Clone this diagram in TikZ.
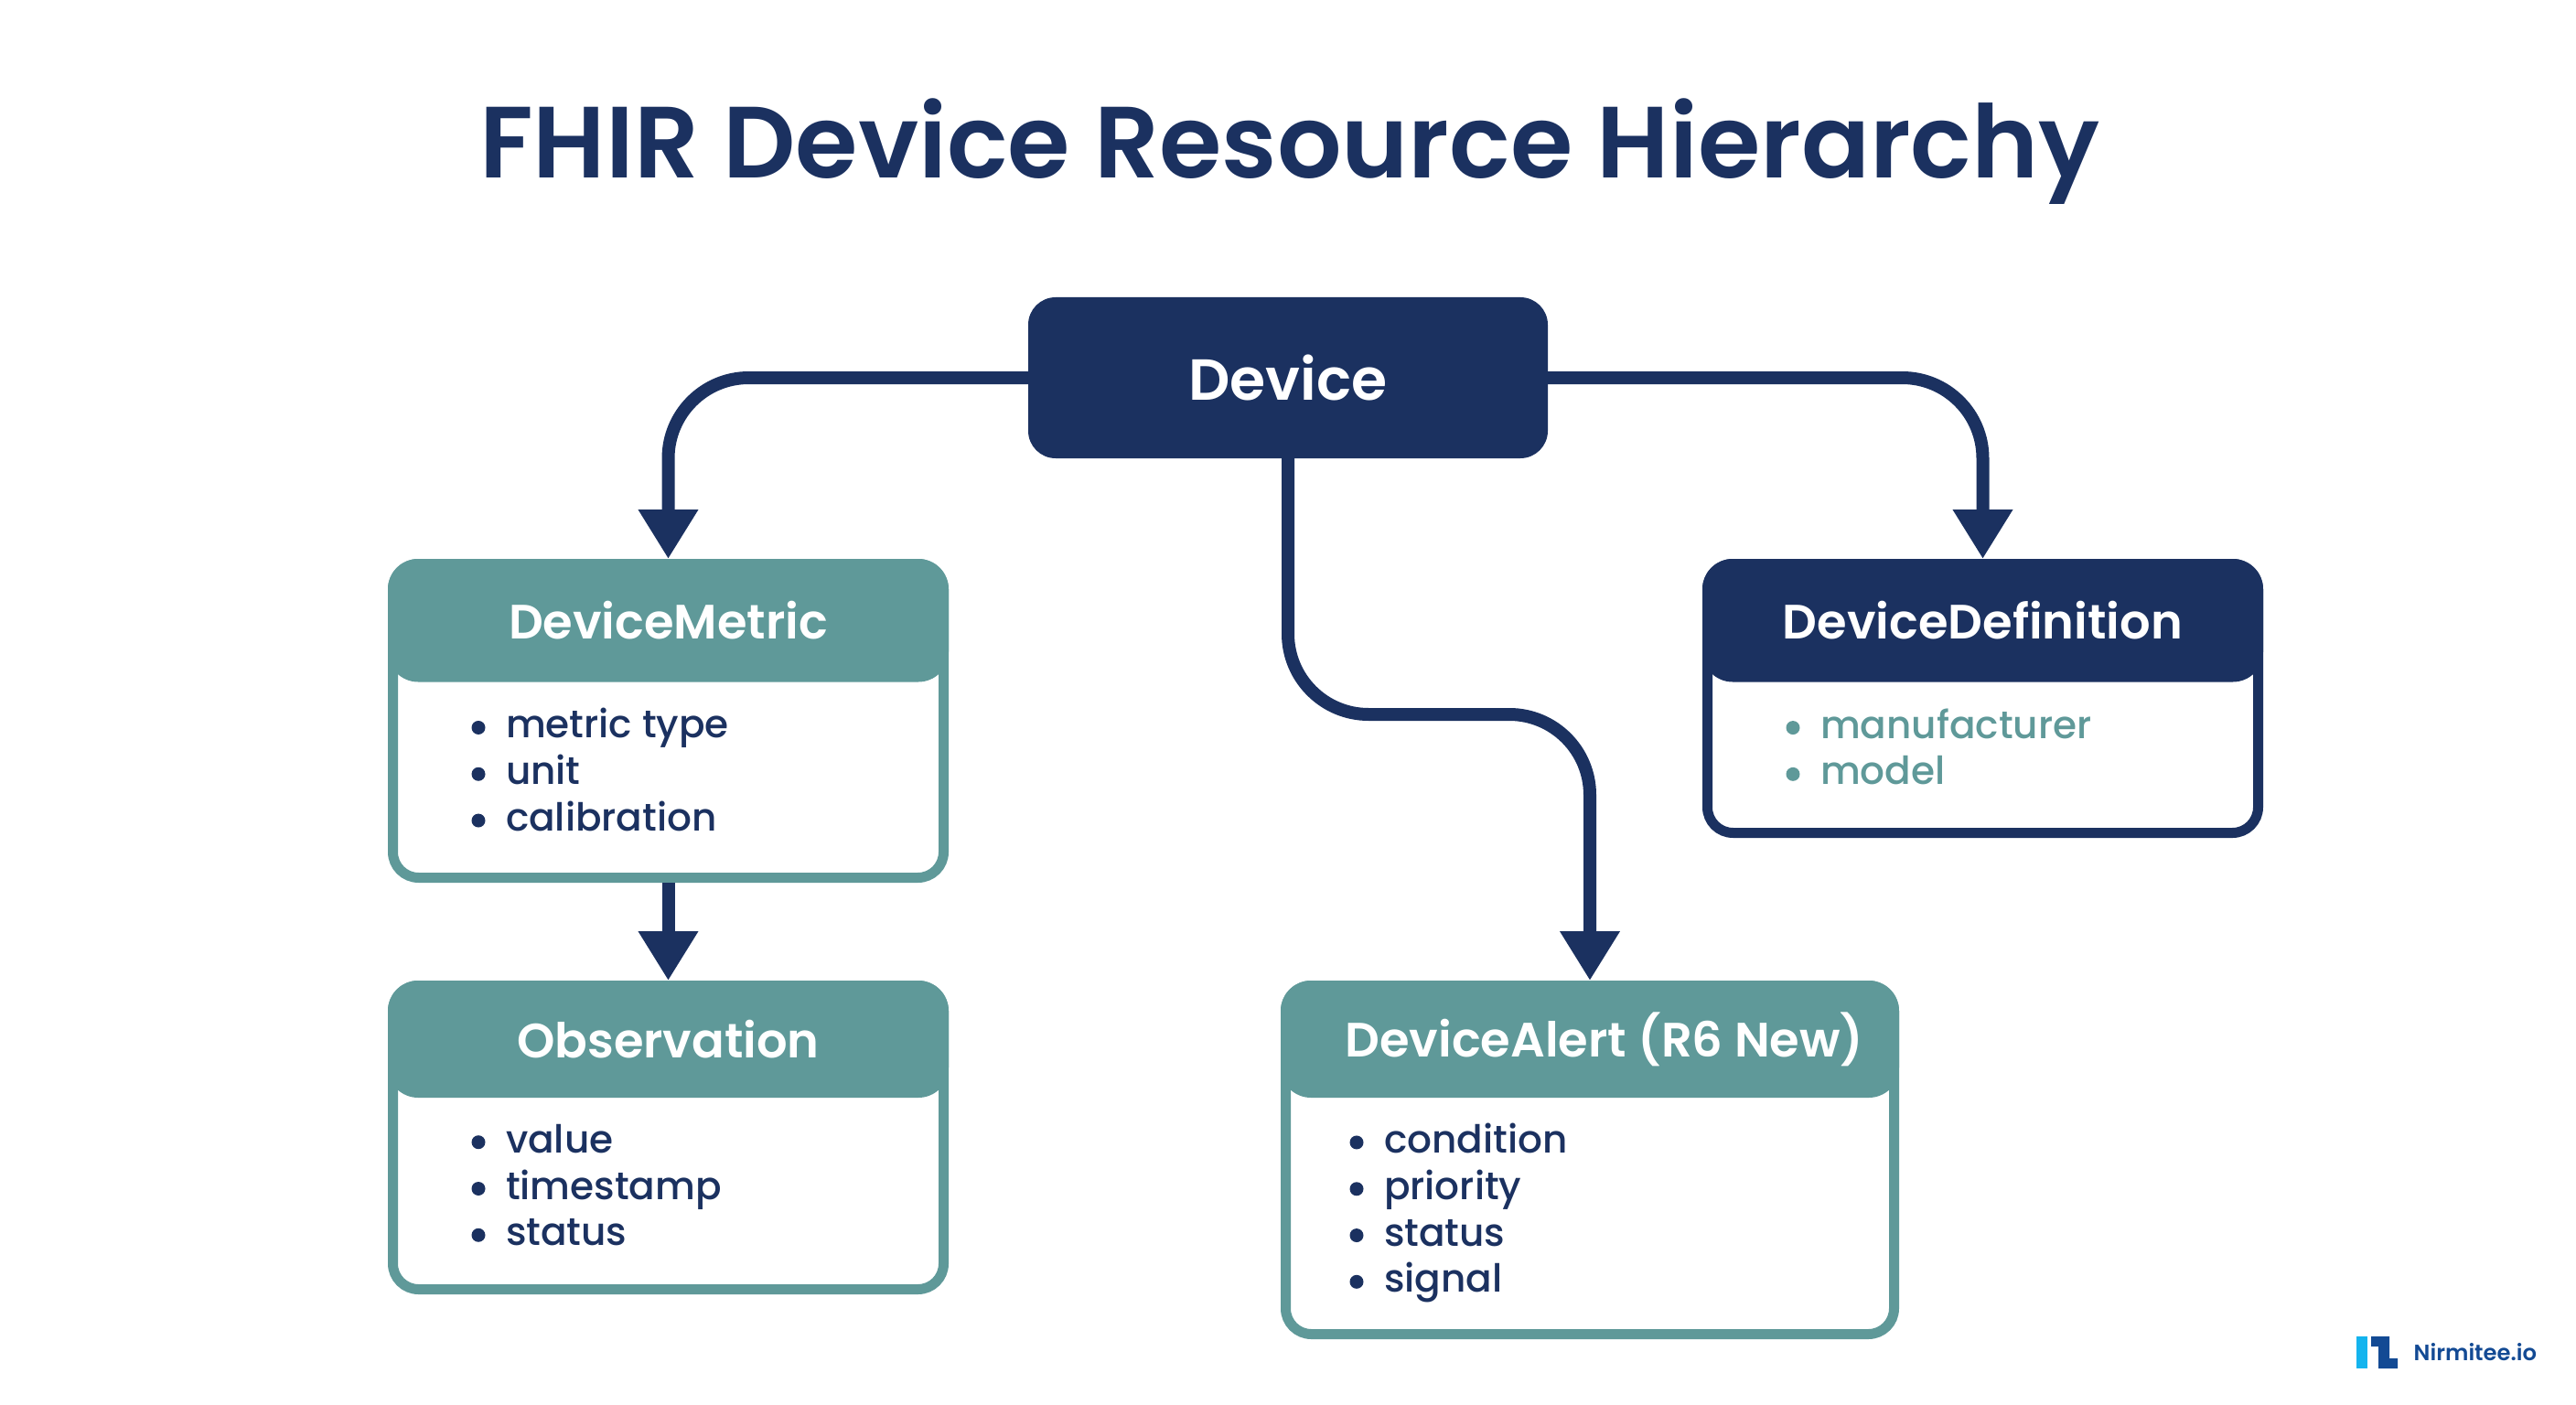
\documentclass[tikz,border=0pt]{standalone}
\usepackage{fontspec}
\setmainfont{Poppins Medium}
\newfontfamily\semifont{Poppins SemiBold}
\usetikzlibrary{positioning}
\usetikzlibrary{arrows.meta}

\definecolor{navy}{HTML}{1B3160}
\definecolor{teal}{HTML}{5F9999}
\definecolor{logoblue}{HTML}{134A94}
\definecolor{logocyan}{HTML}{14B4EE}

\newcommand{\blt}{\makebox[0.45cm][l]{\tikz[baseline=0pt]{\path (0,0); \fill (0.15,0.115) circle (0.075);}}}

\tikzset{
	box/.style={draw, line width=0.11cm, rounded corners=0.28cm, fill=white, minimum width=6.02cm},
	head/.style={rounded corners=0.33cm, minimum width=6.13cm, minimum height=1.345cm, inner sep=0pt, outer sep=0pt, text=white, font=\fontsize{15}{18}\selectfont\semifont},
	items/.style={align=left, inner sep=0pt, outer sep=0pt, anchor=north west, font=\fontsize{12}{14.45}\selectfont},
	link/.style={color=navy, line width=0.14cm, rounded corners=0.88cm, -{Triangle[length=0.54cm, width=0.62cm, fill=navy]}}
}

\begin{document}
\begin{tikzpicture}
			\useasboundingbox (0,0) rectangle (28.16,-15.36);

			\node[text=navy, font=\fontsize{31.5}{36}\selectfont\semifont](title) at (14.10,-1.66){FHIR Device Resource Hierarchy};

			\node[fill=navy, rounded corners=0.3cm, minimum width=5.68cm, minimum height=1.76cm, outer sep=0pt, text=white, font=\fontsize{18}{20}\selectfont\semifont](dev) at (14.08,-4.13){Device};

			\node[box, draw=teal, minimum height=3.43cm, below left=1.10cm and 0.87cm of dev.south west](metric){};
			\node[head, fill=teal, below=0pt of metric.north](metrichead){DeviceMetric};
			\node[items, text=navy, below right=0.29cm and 0.84cm of metrichead.south west](metriclist){\blt metric type\\\blt unit\\\blt calibration};

			\node[box, draw=teal, minimum height=3.32cm, below=1.07cm of metric](obs){};
			\node[head, fill=teal, minimum height=1.28cm, below=0pt of obs.north](obshead){Observation};
			\node[items, text=navy, below right=0.29cm and 0.84cm of obshead.south west](obslist){\blt value\\\blt timestamp\\\blt status};

			\node[box, draw=navy, minimum height=2.94cm, below right=1.10cm and 1.69cm of dev.south east](def){};
			\node[head, fill=navy, below=0pt of def.north](defhead){DeviceDefinition};
			\node[items, text=teal, below right=0.29cm and 0.84cm of defhead.south west](deflist){\blt manufacturer\\\blt model};

			\node[box, draw=teal, minimum width=6.65cm, minimum height=3.81cm, below=5.71cm of dev, xshift=3.30cm](alert){};
			\node[head, fill=teal, minimum width=6.76cm, minimum height=1.28cm, below=0pt of alert.north](alerthead){\hspace*{0.32cm}DeviceAlert (R6 New)};
			\node[items, text=navy, below right=0.28cm and 0.68cm of alerthead.south west](alertlist){\blt condition\\\blt priority\\\blt status\\\blt signal};

			\coordinate[below=2.80cm of dev.south](bendl);
			\coordinate(bendr) at (bendl -| alert.north);

			\draw[link] (dev.west) -| (metric.north);
			\draw[link] (dev.east) -| (def.north);
			\draw[link] (dev.south) -- (bendl) -- (bendr) -- (alert.north);
			\draw[link] (metric.south) -- (obs.north);

			\fill[logocyan] (25.76,-14.61) rectangle (25.88,-14.96);
			\fill[logoblue] (25.92,-14.61) -- (26.12,-14.61) -- (26.12,-14.85) -- (26.21,-14.85) -- (26.21,-14.96) -- (26.00,-14.96) -- (26.00,-14.72) -- (25.92,-14.72) -- cycle;
			\node[text=logoblue, inner sep=0pt, anchor=west, font=\fontsize{6.9}{9}\selectfont\semifont](logo) at (26.38,-14.78){Nirmitee.io};
		\end{tikzpicture}
\end{document}
